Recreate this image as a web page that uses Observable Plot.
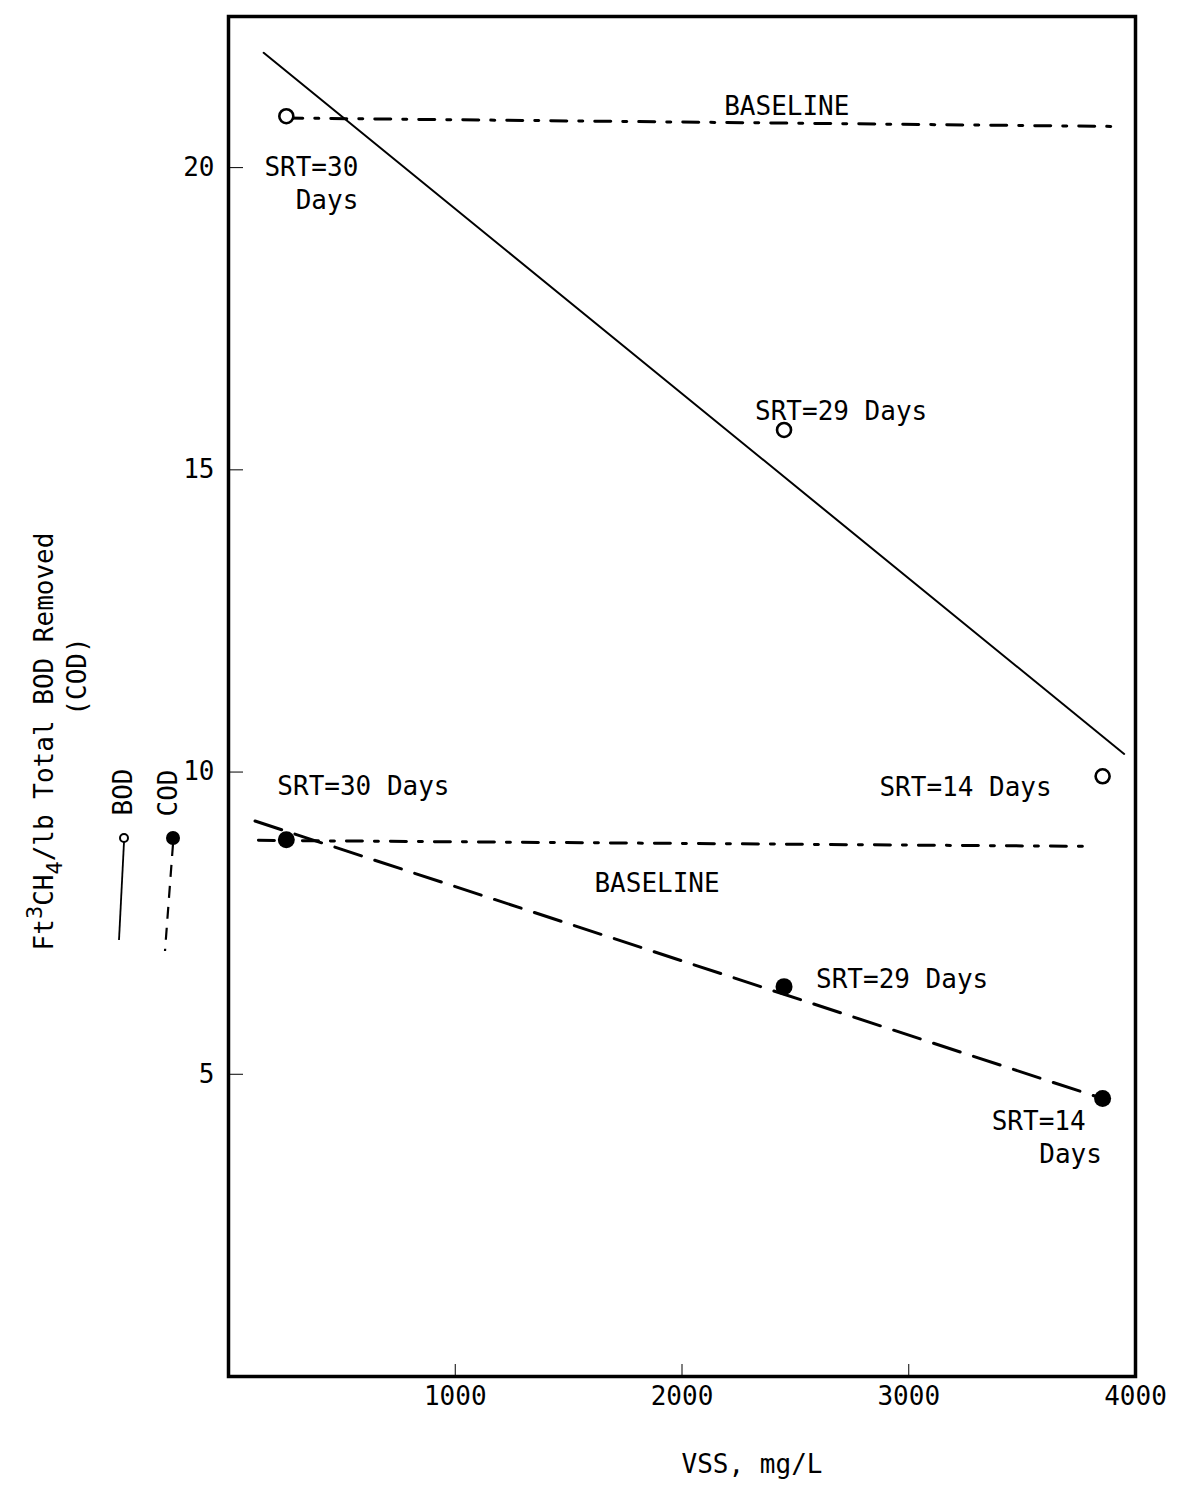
<!DOCTYPE html>
<html>
<head>
<meta charset="utf-8">
<script src="https://cdn.jsdelivr.net/npm/d3@7"></script>
<script src="https://cdn.jsdelivr.net/npm/@observablehq/plot@0.6"></script>
<style>
  html, body { margin: 0; padding: 0; background: #fff; overflow: hidden; }
  #chart svg { display: block; max-width: none; }
</style>
</head>
<body>
<div id="chart"></div>
<script>
// ---- data ----
const runVss = [255, 2450, 3855];          // VSS, mg/L of the three runs
const runSrt = [30, 29, 14];               // SRT, days
const bodValues = [20.85, 15.66, 9.93];    // ft3 CH4 / lb BOD removed
const codValues = [8.88, 6.45, 4.60];      // ft3 CH4 / lb COD removed
const bodFitVss = [155, 3950];
const bodFitValues = [21.9, 10.3];
const codFitVss = [117, 3853];
const codFitValues = [9.19, 4.60];
const bodBaseVss = [257, 3933];
const bodBaseValues = [20.82, 20.68];
const codBaseVss = [132, 3802];
const codBaseValues = [8.87, 8.77];
const xTicks = [1000, 2000, 3000, 4000];
const yTicks = [5, 10, 15, 20];
const xLabel = "VSS, mg/L";
const yLabelParts = ["Ft", "3", "CH", "4", "/lb Total BOD Removed"];
const yLabel = yLabelParts.join("");
const yLabel2 = "(COD)";
const baselineText = "BASELINE";
const legendNames = ["BOD", "COD"];

// ---- tables built from the arrays ----
const pairs = (xs, ys) => xs.map((v, i) => ({vss: v, value: ys[i]}));
const bodRuns = runVss.map((v, i) => ({vss: v, value: bodValues[i], srt: runSrt[i]}));
const codRuns = runVss.map((v, i) => ({vss: v, value: codValues[i], srt: runSrt[i]}));
const bodFit = pairs(bodFitVss, bodFitValues);
const codFit = pairs(codFitVss, codFitValues);
const bodBase = pairs(bodBaseVss, bodBaseValues);
const codBase = pairs(codBaseVss, codBaseValues);

const FONT = "DejaVu Sans Mono";
const DASHDOT = "16,12,4,12";
const srtDays = d => `SRT=${d.srt} Days`;

const plot = Plot.plot({
  width: 1183,
  height: 1485,
  marginLeft: 228,
  marginRight: 48,
  marginTop: 16,
  marginBottom: 109,
  style: {fontFamily: FONT, fontSize: "26px", background: "#fff", color: "#000"},
  x: {domain: [0, 4000], ticks: xTicks, tickFormat: "d", tickSize: -12, tickPadding: 22, label: null},
  y: {domain: [0, 22.5], ticks: yTicks, tickFormat: "d", tickSize: -15, tickPadding: 29, label: null},
  marks: [
    Plot.frame({stroke: "#000", strokeWidth: 3.5}),
    // BOD
    Plot.line(bodFit, {x: "vss", y: "value", stroke: "#000", strokeWidth: 2}),
    Plot.line(bodBase, {x: "vss", y: "value", stroke: "#000", strokeWidth: 3, strokeDasharray: DASHDOT}),
    Plot.dot(bodRuns, {x: "vss", y: "value", r: 7, fill: "#fff", stroke: "#000", strokeWidth: 2.6}),
    // COD
    Plot.line(codFit, {x: "vss", y: "value", stroke: "#000", strokeWidth: 3, strokeDasharray: "28,14"}),
    Plot.line(codBase, {x: "vss", y: "value", stroke: "#000", strokeWidth: 3, strokeDasharray: DASHDOT}),
    Plot.dot(codRuns, {x: "vss", y: "value", r: 8.5, fill: "#000"}),
    // point annotations (BOD)
    Plot.text([bodRuns[0]], {x: "vss", y: "value", text: d => `SRT=${d.srt}\nDays`, textAnchor: "end", lineHeight: 1.27, dx: 72, dy: 66}),
    Plot.text([bodRuns[1]], {x: "vss", y: "value", text: srtDays, textAnchor: "start", dx: -29, dy: -18}),
    Plot.text([bodRuns[2]], {x: "vss", y: "value", text: srtDays, textAnchor: "end", dx: -51, dy: 11}),
    // point annotations (COD)
    Plot.text([codRuns[0]], {x: "vss", y: "value", text: srtDays, textAnchor: "start", dx: -9, dy: -53}),
    Plot.text([codRuns[1]], {x: "vss", y: "value", text: srtDays, textAnchor: "start", dx: 32, dy: -7}),
    Plot.text([codRuns[2]], {x: "vss", y: "value", text: d => `SRT=${d.srt}`, textAnchor: "middle", dx: -64, dy: 23}),
    Plot.text([codRuns[2]], {x: "vss", y: "value", text: () => "Days", textAnchor: "middle", dx: -32, dy: 56}),
    // baseline labels
    Plot.text([bodBase[0]], {x: "vss", y: "value", text: () => baselineText, textAnchor: "middle", dx: 500, dy: -11}),
    Plot.text([codBase[0]], {x: "vss", y: "value", text: () => baselineText, textAnchor: "start", dx: 336, dy: 43}),
    // axis titles
    Plot.text([xLabel], {frameAnchor: "bottom", text: d => d, textAnchor: "middle", lineAnchor: "middle", dx: 70, dy: 88}),
    Plot.text([yLabel], {frameAnchor: "left", text: d => d, rotate: -90, textAnchor: "middle", lineAnchor: "middle", dx: -184, dy: 45}),
    Plot.text([yLabel2], {frameAnchor: "left", text: d => d, rotate: -90, textAnchor: "middle", lineAnchor: "middle", dx: -151, dy: -20})
  ]
});

const svg = d3.select(plot);

// ---- superscript 3 and subscript 4 in the y title ----
svg.selectAll("text").filter(function() { return this.textContent === yLabel; }).each(function() {
  const t = d3.select(this);
  t.text(null);
  const [a, sup, b, sub, c] = yLabelParts;
  t.append("tspan").text(a);
  t.append("tspan").attr("dy", -11).attr("font-size", 22).text(sup);
  t.append("tspan").attr("dy", 11).text(b);
  t.append("tspan").attr("dy", 9).attr("font-size", 22).text(sub);
  t.append("tspan").attr("dy", -9).text(c);
});

// ---- legend (left margin) ----
const lg = svg.append("g").attr("font-family", FONT).attr("font-size", 26).attr("fill", "#000");
const legendSpec = [
  {name: legendNames[0], tx: 123, ty: 792, cx: 124, cy: 838, r: 4, filled: false, x2: 119, y2: 940, dash: null, w: 1.8},
  {name: legendNames[1], tx: 168, ty: 793, cx: 173, cy: 838, r: 6, filled: true, x2: 165, y2: 951, dash: "12,9", w: 2.2}
];
for (const s of legendSpec) {
  lg.append("text")
    .attr("transform", `translate(${s.tx},${s.ty}) rotate(-90)`)
    .attr("text-anchor", "middle")
    .attr("dy", "0.35em")
    .text(s.name);
  lg.append("line")
    .attr("x1", s.cx).attr("y1", s.cy + s.r)
    .attr("x2", s.x2).attr("y2", s.y2)
    .attr("stroke", "#000").attr("stroke-width", s.w)
    .attr("stroke-dasharray", s.dash);
  lg.append("circle")
    .attr("cx", s.cx).attr("cy", s.cy).attr("r", s.r)
    .attr("fill", s.filled ? "#000" : "#fff")
    .attr("stroke", "#000").attr("stroke-width", 2);
}

document.getElementById("chart").appendChild(plot);
</script>
</body>
</html>
